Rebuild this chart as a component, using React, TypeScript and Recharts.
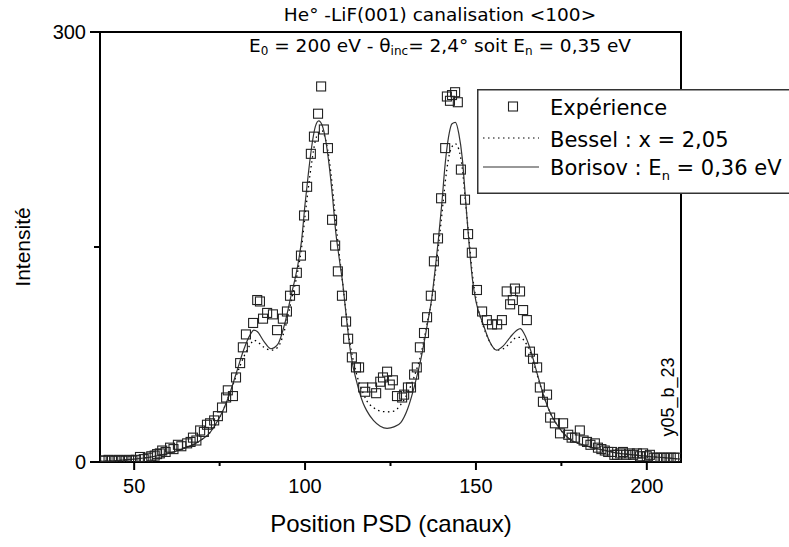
import {
  ComposedChart,
  Legend,
  Line,
  ReferenceArea,
  Scatter,
  XAxis,
  YAxis,
} from "recharts";

const expChannels = [
  40.5, 41.5, 42.5, 43.5, 44.5, 45.5, 46.5, 47.5, 48.5, 49.5,
  50.5, 51.7, 52.8, 54, 55, 56, 56.7, 57.5, 58.2, 59.2,
  60.5, 61.5, 62.8, 63.8, 65.5, 66.5, 67.2, 68.2, 69.3, 70.4,
  71.3, 72.2, 73.4, 74.5, 75.7, 76.9, 77.4, 78.9, 79.8, 81,
  81.8, 82.7, 84.8, 86, 86.8, 87.7, 88.9, 90.6, 91.8, 93.5,
  94.7, 95.6, 97, 97.6, 98.8, 99.7, 100.6, 101.7, 102.6, 103.8,
  104.7, 105.5, 106.7, 107.9, 108.8, 109.6, 110.8, 112, 112.6, 113.7,
  114.9, 115.8, 117, 117.6, 119.6, 120.8, 122, 122.8, 124, 124.8,
  125.7, 126.9, 128.4, 129, 130.1, 131, 131.9, 132.7, 133.6, 134.8,
  135.7, 136.8, 137.7, 138.9, 139.8, 141, 141.5, 142.4, 143, 143.9,
  144.7, 145.6, 146.8, 147.7, 148.8, 150.3, 151.8, 153.2, 154.7, 156.2,
  157.6, 159, 160, 160.8, 161.4, 162.9, 163.8, 164.9, 165.8, 166.7,
  167.9, 168.7, 169.6, 170.8, 171.7, 173.1, 174.6, 175.5, 177, 178,
  179, 180.4, 181.5, 182.5, 183.5, 184.8, 185.7, 186.7, 187.7, 188.7,
  189.8, 190.5, 191.3, 192.2, 193, 194, 195, 196, 197.1, 198,
  198.9, 200, 200.9, 202, 203, 204, 205, 206, 207, 208, 209,
];
const expCounts = [
  1, 1, 1.5, 1, 1, 1.5, 1, 1, 1.5, 1,
  1.5, 3.5, 2, 3, 4, 4.5, 5.5, 6, 8, 7,
  10, 9, 12, 11, 13, 14, 17, 15, 22, 21,
  26, 27, 29, 32, 38, 45, 50, 46, 59, 69,
  80, 89, 97, 113, 112, 100, 104, 103, 92, 100,
  105, 116, 120, 132, 144, 172, 192, 215, 227, 243,
  262, 232, 219, 169, 151, 133, 116, 98, 86, 73,
  66, 66, 52, 49, 52, 48, 56, 59, 63, 54,
  57, 46, 45, 47, 52, 52, 61, 66, 80, 90,
  101, 116, 140, 156, 184, 219, 255, 252, 256, 258,
  251, 204, 183, 159, 146, 120, 105, 99, 96, 96,
  99, 119, 110, 113, 121, 119, 106, 99, 77, 72,
  66, 52, 42, 47, 31, 27, 20, 27, 19, 17,
  17, 22, 15, 14, 12, 13, 10, 9, 8, 7,
  7, 5, 5, 6, 7, 5, 6, 5, 6, 4,
  6, 4, 5, 3, 3, 3, 3, 3, 3, 3, 3,
];

// fitted curves, sampled on the same channels
const fitChannels = [
  40, 45, 50, 55, 60, 64, 68, 70, 72, 74,
  76, 78, 80, 82, 84, 85, 86, 88, 90, 92,
  94, 96, 97, 98, 99, 100, 101, 102, 103, 104,
  105, 106, 107, 108, 109, 110, 111, 112, 113, 114,
  115, 116, 117, 118, 120, 122, 124, 126, 128, 130,
  132, 134, 136, 137, 138, 139, 140, 141, 142, 143,
  144, 145, 146, 147, 148, 149, 150, 152, 154, 156,
  158, 160, 162, 163, 164, 166, 168, 170, 172, 174,
  176, 178, 180, 184, 188, 192, 196, 200, 205, 210,
];
const besselValues = [
  0.5, 1, 2, 3.5, 6, 9, 13, 16, 20, 27,
  36, 48, 61, 73, 82, 85, 84, 80, 78, 80,
  92, 113, 123, 135, 150, 172, 192, 210, 224, 230,
  231, 225, 212, 192, 167, 145, 125, 104, 85, 72,
  62, 54, 48, 43, 38, 35.5, 35, 35.5, 40, 48,
  60, 76, 100, 112, 130, 150, 172, 195, 212, 220,
  222, 218, 205, 180, 155, 130, 114, 96, 84, 78,
  79, 83, 87, 87, 85, 76, 60, 45, 33, 25,
  19, 15, 13, 10, 8, 6, 5, 4, 3, 2,
];
const borisovValues = [
  0.5, 1, 2, 3.5, 6, 9, 13, 16, 20, 27,
  36, 48, 63, 78, 89, 92, 91, 84, 79, 82,
  96, 117, 127, 139, 155, 180, 202, 221, 234, 238,
  235, 225, 208, 186, 160, 142, 125, 103, 82, 67,
  57, 48, 41, 36, 29, 25, 23.5, 24.5, 27.5, 37,
  53, 73, 99, 113, 133, 155, 180, 208, 227, 236,
  237, 229, 212, 182, 152, 127, 112, 97, 84, 78,
  81, 87, 92, 93, 90, 78, 61, 45, 33, 25,
  19, 15, 13, 10, 8, 6, 5, 4, 3, 2,
];

const xTicks = [50, 75, 100, 125, 150, 175, 200];
const xLabelled = [50, 100, 150, 200];
const yTicks = [0, 150, 300];
const yLabelled = [0, 300];

const expData = expChannels.map((x, i) => ({ x, y: expCounts[i] }));
const besselData = fitChannels.map((x, i) => ({ x, y: besselValues[i] }));
const borisovData = fitChannels.map((x, i) => ({ x, y: borisovValues[i] }));

const TICK_FONT = "'Liberation Sans', Arial, sans-serif";
const TITLE_FONT = "'DejaVu Sans', Verdana, sans-serif";

function XTick({ x, y, payload }: any) {
  const major = xLabelled.includes(payload.value);
  return (
    <g>
      <line x1={x} x2={x} y1={y} y2={y + (major ? 8 : 4)} stroke="#000" strokeWidth={2} />
      {major && (
        <text x={x} y={y + 24} textAnchor="middle" dominantBaseline="central" fontFamily={TICK_FONT} fontSize={20} fill="#000">
          {payload.value}
        </text>
      )}
    </g>
  );
}

function YTick({ x, y, payload }: any) {
  const major = yLabelled.includes(payload.value);
  return (
    <g>
      <line x1={x - (major ? 10 : 6)} x2={x} y1={y} y2={y} stroke="#000" strokeWidth={2} />
      {major && (
        <text x={x - 14} y={y} textAnchor="end" dominantBaseline="central" fontFamily={TICK_FONT} fontSize={20} fill="#000">
          {payload.value}
        </text>
      )}
    </g>
  );
}

const square = (p: any) => (
  <rect x={p.cx - 4.5} y={p.cy - 4.5} width={9} height={9} fill="none" stroke="#222" strokeWidth={1.1} />
);

function LegendBox() {
  return (
    <svg width={320} height={105} style={{ display: "block" }}>
      <rect x={0.75} y={0.75} width={330} height={103.5} fill="#fff" stroke="#333" strokeWidth={1.5} />
      <rect x={31.5} y={13} width={9} height={9} fill="none" stroke="#222" strokeWidth={1.1} />
      <line x1={6} x2={62} y1={49} y2={49} stroke="#000" strokeWidth={1.2} strokeDasharray="1.5 3.5" />
      <line x1={6} x2={62} y1={78} y2={78} stroke="#333" strokeWidth={1.2} />
      <g fontFamily={TITLE_FONT} fontSize={21} fill="#000">
        <text x={73} y={19} dominantBaseline="central">Expérience</text>
        <text x={73} y={51} dominantBaseline="central">Bessel : x = 2,05</text>
        <text x={73} y={79} dominantBaseline="central">
          Borisov : E<tspan dy={7} fontSize={13}>n</tspan>
          <tspan dy={-7}> = 0,36 eV</tspan>
        </text>
      </g>
    </svg>
  );
}

export default function App() {
  return (
    <div style={{ position: "absolute", left: 0, top: 0, width: 789, height: 547, overflow: "hidden", background: "#fff" }}>
      <ComposedChart width={789} height={547} margin={{ top: 32, right: 108, bottom: 0, left: 0 }}>
        <XAxis
          type="number"
          dataKey="x"
          domain={[40, 210]}
          allowDataOverflow
          ticks={xTicks}
          interval={0}
          height={85}
          tickSize={0}
          tickMargin={0}
          axisLine={false}
          tick={<XTick />}
        />
        <YAxis
          type="number"
          domain={[0, 300]}
          allowDataOverflow
          ticks={yTicks}
          interval={0}
          width={100}
          tickSize={0}
          tickMargin={0}
          axisLine={false}
          tick={<YTick />}
        />
        <ReferenceArea x1={40} x2={210} y1={0} y2={300} fill="none" fillOpacity={0} stroke="#000" strokeWidth={2} />
        <Line
          data={besselData}
          dataKey="y"
          type="monotone"
          stroke="#000"
          strokeWidth={1.3}
          strokeDasharray="1.5 3.5"
          dot={false}
          isAnimationActive={false}
        />
        <Line
          data={borisovData}
          dataKey="y"
          type="monotone"
          stroke="#333"
          strokeWidth={1.2}
          dot={false}
          isAnimationActive={false}
        />
        <Scatter data={expData} dataKey="y" shape={square} isAnimationActive={false} />
        <Legend
          layout="vertical"
          align="center"
          verticalAlign="middle"
          content={() => <LegendBox />}
          wrapperStyle={{ left: 477, top: 89, width: 320, height: 105 }}
        />
      </ComposedChart>
      <svg width={789} height={547} style={{ position: "absolute", left: 0, top: 0, pointerEvents: "none" }}>
        <text x={440} y={14} textAnchor="middle" dominantBaseline="central" fontFamily={TITLE_FONT} fontSize={18.5} fill="#000">
          He° -LiF(001) canalisation &lt;100&gt;
        </text>
        <text x={440} y={45} textAnchor="middle" dominantBaseline="central" fontFamily={TITLE_FONT} fontSize={18.5} fill="#000">
          E<tspan dy={6} fontSize={12}>0</tspan>
          <tspan dy={-6}> = 200 eV - θ</tspan>
          <tspan dy={6} fontSize={12}>inc</tspan>
          <tspan dy={-6}>= 2,4° soit E</tspan>
          <tspan dy={6} fontSize={12}>n</tspan>
          <tspan dy={-6}> = 0,35 eV</tspan>
        </text>
        <text x={22} y={247} textAnchor="middle" dominantBaseline="central" transform="rotate(-90 22 247)" fontFamily={TICK_FONT} fontSize={21} fill="#000">
          Intensité
        </text>
        <text x={391} y={523} textAnchor="middle" dominantBaseline="central" fontFamily={TICK_FONT} fontSize={24} fill="#000">
          Position PSD (canaux)
        </text>
        <text x={0} y={0} textAnchor="middle" transform="translate(674 397) rotate(-90)" fontFamily={TICK_FONT} fontSize={18} fill="#000">
          y05_b_23
        </text>
      </svg>
    </div>
  );
}
